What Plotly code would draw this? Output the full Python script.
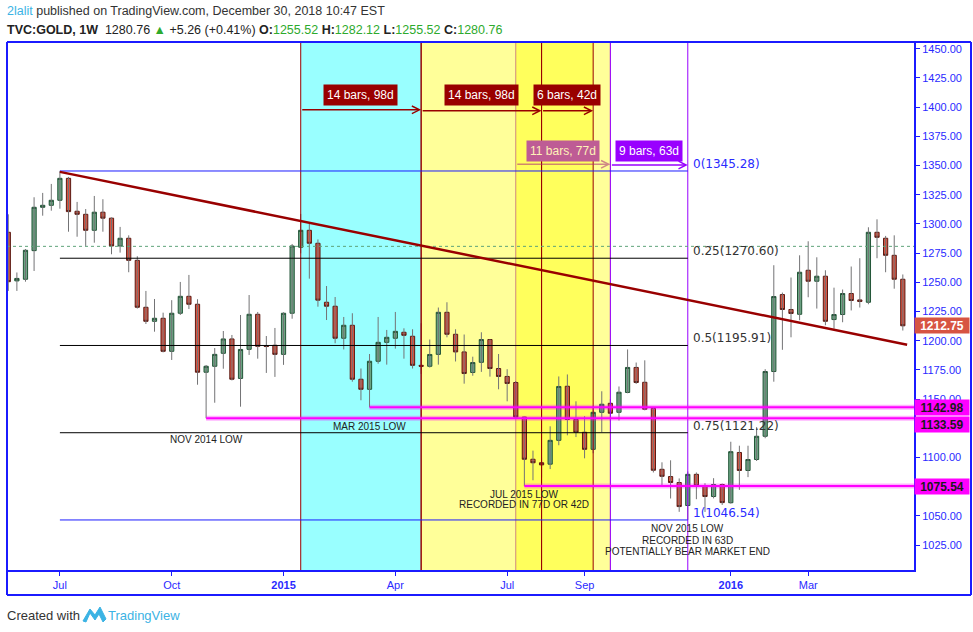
import plotly.graph_objects as go
import pandas as pd

# ---------------- data (weekly TVC:GOLD bars) ----------------
week_start = "2014-05-26"

opens = [1292.8, 1251.2, 1252.6, 1277.1, 1314.2, 1315.9, 1320.2, 1339.0, 1310.8, 1308.2,
         1294.5, 1310.0, 1304.9, 1281.1, 1287.7, 1268.8, 1228.6, 1216.6, 1219.2, 1190.9,
         1223.5, 1238.0, 1231.2, 1173.0, 1178.1, 1189.2, 1201.5, 1167.7, 1192.6, 1222.6,
         1195.6, 1196.1, 1188.3, 1223.5, 1280.0, 1294.5, 1283.4, 1232.9, 1229.5, 1202.1,
         1213.2, 1167.0, 1158.4, 1182.4, 1198.6, 1202.1, 1207.2, 1203.8, 1178.9, 1178.1,
         1188.3, 1224.3, 1205.5, 1190.4, 1172.8, 1181.5, 1201.0, 1176.2, 1169.4, 1164.2,
         1134.6, 1098.5, 1095.5, 1094.3, 1114.7, 1161.0, 1132.6, 1121.6, 1107.0, 1138.7,
         1146.4, 1138.7, 1155.7, 1177.1, 1164.4, 1142.1, 1089.9, 1083.7, 1078.6, 1058.9,
         1085.6, 1075.7, 1066.6, 1076.9, 1061.3, 1104.3, 1088.9, 1098.3, 1118.2, 1173.6,
         1239.5, 1226.7, 1222.6, 1260.3, 1250.9, 1255.2, 1218.1, 1222.4, 1240.4, 1234.9,
         1232.9, 1292.8, 1287.7, 1273.1, 1252.6]
highs = [1308.2, 1258.4, 1278.5, 1322.8, 1326.5, 1334.2, 1345.3, 1340.2, 1318.8, 1312.7,
         1323.9, 1321.1, 1305.5, 1297.4, 1290.2, 1272.3, 1242.6, 1235.7, 1224.0, 1234.7,
         1250.3, 1256.3, 1235.5, 1179.2, 1193.7, 1208.3, 1204.9, 1222.0, 1239.1, 1224.6,
         1204.0, 1210.9, 1224.3, 1282.8, 1308.5, 1299.9, 1286.7, 1246.8, 1237.4, 1220.3,
         1223.5, 1176.2, 1188.6, 1220.3, 1209.2, 1224.6, 1210.6, 1209.8, 1214.9, 1201.0,
         1228.4, 1232.9, 1209.8, 1205.3, 1186.3, 1207.2, 1201.2, 1188.6, 1175.6, 1165.5,
         1135.0, 1105.9, 1100.0, 1126.7, 1169.4, 1171.1, 1148.1, 1135.4, 1144.4, 1156.7,
         1150.0, 1160.8, 1192.5, 1181.3, 1183.2, 1142.5, 1095.9, 1097.6, 1082.1, 1088.0,
         1087.2, 1078.0, 1082.3, 1077.7, 1113.5, 1110.1, 1110.1, 1126.0, 1175.6, 1264.6,
         1241.2, 1254.1, 1273.1, 1285.1, 1271.4, 1260.3, 1245.4, 1243.8, 1263.5, 1270.6,
         1297.1, 1303.9, 1289.7, 1290.2, 1256.7]
lows = [1242.6, 1242.6, 1250.5, 1259.7, 1307.0, 1311.3, 1313.0, 1293.3, 1289.0, 1281.1,
        1283.9, 1293.3, 1274.0, 1275.4, 1258.6, 1227.5, 1214.3, 1207.7, 1190.0, 1183.5,
        1222.0, 1227.1, 1162.3, 1133.6, 1146.9, 1176.0, 1166.0, 1143.5, 1187.8, 1184.6,
        1172.4, 1169.0, 1179.3, 1218.8, 1274.8, 1253.1, 1229.1, 1217.7, 1197.8, 1192.5,
        1164.9, 1149.0, 1142.98, 1180.3, 1179.5, 1193.2, 1184.6, 1176.2, 1171.6, 1177.0,
        1179.5, 1202.9, 1182.2, 1163.2, 1170.0, 1173.3, 1169.2, 1158.4, 1148.1, 1134.0,
        1075.54, 1080.5, 1083.0, 1090.1, 1110.5, 1119.0, 1117.5, 1099.3, 1103.6, 1121.6,
        1131.0, 1131.7, 1155.0, 1163.0, 1140.4, 1087.2, 1076.2, 1064.9, 1053.5, 1046.54,
        1064.3, 1053.4, 1065.0, 1059.4, 1060.5, 1072.3, 1083.2, 1097.0, 1116.5, 1164.9,
        1192.2, 1202.9, 1217.5, 1237.2, 1227.5, 1213.2, 1210.3, 1215.8, 1225.9, 1228.4,
        1231.2, 1270.6, 1258.6, 1244.5, 1208.7]
closes = [1250.5, 1253.3, 1277.4, 1314.2, 1315.9, 1320.2, 1339.0, 1310.5, 1308.2, 1294.5,
          1310.0, 1304.9, 1281.1, 1287.7, 1268.8, 1228.6, 1216.6, 1219.2, 1190.9, 1223.5,
          1238.0, 1231.2, 1173.0, 1178.1, 1188.3, 1201.5, 1167.0, 1192.5, 1222.6, 1195.2,
          1195.0, 1188.3, 1223.5, 1281.1, 1294.5, 1283.4, 1234.7, 1229.5, 1202.1, 1213.2,
          1167.0, 1158.4, 1182.4, 1198.6, 1202.9, 1208.0, 1204.6, 1178.9, 1178.1, 1188.2,
          1224.3, 1205.5, 1190.4, 1171.9, 1181.3, 1201.0, 1176.2, 1169.4, 1163.4, 1134.6,
          1098.5, 1095.5, 1093.7, 1114.7, 1160.8, 1132.6, 1121.6, 1107.0, 1138.7, 1145.6,
          1137.9, 1155.9, 1177.1, 1164.2, 1141.3, 1089.1, 1083.9, 1078.6, 1058.0, 1085.6,
          1075.7, 1066.6, 1076.9, 1061.4, 1105.0, 1088.9, 1098.3, 1118.2, 1173.6, 1237.8,
          1226.7, 1223.3, 1258.6, 1250.9, 1255.2, 1216.6, 1222.4, 1240.4, 1234.4, 1233.6,
          1292.8, 1288.5, 1273.1, 1252.6, 1212.75]

tick_bars = [6, 19, 32, 45, 58, 67, 84, 93]
tick_text = ["Jul", "Oct", "<b>2015</b>", "Apr", "Jul", "Sep", "<b>2016</b>", "Mar"]

price_ticks = [1025, 1050, 1075, 1100, 1125, 1150, 1175, 1200, 1225, 1250, 1275, 1300,
               1325, 1350, 1375, 1400, 1425, 1450]
hidden_price_ticks = [1075, 1125]  # covered by price labels in the picture

fib_levels = [1345.28, 1270.60, 1195.91, 1121.22, 1046.54]
fib_names = ["0", "0.25", "0.5", "0.75", "1"]
fib_colors = ["#1B1BFF", "#000000", "#000000", "#000000", "#1B1BFF"]
fib_text_colors = ["#2A2AFF", "#333333", "#333333", "#333333", "#2A2AFF"]
fib_bars = [6, 79]

support_levels = [1142.98, 1133.59, 1075.54]
support_start_bars = [42, 23, 60]
support_label_shift = [0, -6, 0]

current_price = 1280.76

trend_bars = [6, 104.5]
trend_prices = [1344.5, 1196.6]

range_starts = [34, 48, 62, 59, 70]
range_ends = [48, 62, 68, 70, 79]
range_labels = ["14 bars, 98d", "14 bars, 98d", "6 bars, 42d", "11 bars, 77d", "9 bars, 63d"]
range_fill = ["rgba(0,255,255,0.40)", "rgba(255,255,0,0.40)", "rgba(255,255,0,0.40)",
              "rgba(255,255,0,0.40)", None]
range_line = ["#990000", "#990000", "#990000", "rgba(170,40,120,0.55)", "#9900FF"]
range_box = ["#990000", "#990000", "#990000", "#BE5C95", "#9900FF"]
range_text_col = ["white", "white", "white", "#FFF2B8", "white"]
range_label_price = [1410.0, 1410.0, 1410.0, 1362.8, 1362.8]
range_arrow_price = [1397.6, 1396.8, 1396.8, 1351.0, 1350.4]

note_texts = ["NOV 2014 LOW", "MAR 2015 LOW", "JUL 2015 LOW", "RECORDED IN 77D OR 42D",
              "NOV 2015 LOW", "RECORDED IN 63D", "POTENTIALLY BEAR MARKET END"]
note_bars = [23, 42, 60, 60, 79, 79, 79]
note_prices = [1115.0, 1126.4, 1068.5, 1059.9, 1039.2, 1029.3, 1019.5]

# ---------------- helpers ----------------
t0 = pd.Timestamp(week_start)


def bar_date(b):
    return t0 + pd.Timedelta(days=7 * b)


dates = [bar_date(i) for i in range(len(opens))]

PL, PR, PT, PB = 7, 914, 42, 570  # plot area in pixels


def px(xp):
    return (xp - PL) / (PR - PL)


def py(yp):
    return (PB - yp) / (PB - PT)


FONT = "Liberation Sans, Arial, sans-serif"
BLUE = "#1B1BFF"
UP_FILL, UP_LINE = "#6BA583", "#225437"
DN_FILL, DN_LINE = "#D75442", "#5B1A13"

fig = go.Figure()

# wicks
wx, wy = [], []
for d, h, l in zip(dates, highs, lows):
    wx += [d, d, None]
    wy += [l, h, None]
fig.add_trace(go.Scatter(x=wx, y=wy, mode="lines", line=dict(color="#737375", width=1),
                         hoverinfo="skip", showlegend=False))

# bodies
body_hi = [max(o, c) for o, c in zip(opens, closes)]
body_lo = [min(o, c) for o, c in zip(opens, closes)]
fig.add_trace(go.Candlestick(x=dates, open=opens, high=body_hi, low=body_lo, close=closes,
                             increasing=dict(fillcolor=UP_FILL, line=dict(color=UP_LINE, width=1)),
                             decreasing=dict(fillcolor=DN_FILL, line=dict(color=DN_LINE, width=1)),
                             whiskerwidth=0, hoverinfo="skip", showlegend=False))

shapes = []
annotations = []

# date range backgrounds and lines
for s, e, fill in zip(range_starts, range_ends, range_fill):
    if fill:
        shapes.append(dict(type="rect", xref="x", yref="paper", x0=bar_date(s), x1=bar_date(e),
                           y0=0, y1=1, fillcolor=fill, line=dict(width=0), layer="below"))
for s, e, lc in zip(range_starts, range_ends, range_line):
    for b in (s, e):
        shapes.append(dict(type="line", xref="x", yref="paper", x0=bar_date(b), x1=bar_date(b),
                           y0=0, y1=1, line=dict(color=lc, width=1)))

# fib levels
for lvl, col in zip(fib_levels, fib_colors):
    shapes.append(dict(type="line", xref="x", yref="y", x0=bar_date(fib_bars[0]),
                       x1=bar_date(fib_bars[1]), y0=lvl, y1=lvl, line=dict(color=col, width=1)))
for lvl, name, tc in zip(fib_levels, fib_names, fib_text_colors):
    annotations.append(dict(x=bar_date(fib_bars[1]), y=lvl, xref="x", yref="y",
                            text=f"{name}({lvl:.2f})", showarrow=False, xanchor="left",
                            yanchor="middle", xshift=3, yshift=7,
                            font=dict(family="DejaVu Sans, sans-serif", size=12, color=tc)))

# current price dotted line
shapes.append(dict(type="line", xref="paper", yref="y", x0=0, x1=1, y0=current_price,
                   y1=current_price, line=dict(color="#5FA37A", width=1, dash="dot")))

# trend line
shapes.append(dict(type="line", xref="x", yref="y", x0=bar_date(trend_bars[0]),
                   x1=bar_date(trend_bars[1]), y0=trend_prices[0], y1=trend_prices[1],
                   line=dict(color="#990000", width=2.5)))

# support lines (magenta with glow)
for lvl, sb in zip(support_levels, support_start_bars):
    shapes.append(dict(type="line", xref="x", yref="y", x0=bar_date(sb), x1=bar_date(105.3),
                       y0=lvl, y1=lvl, line=dict(color="rgba(255,0,255,0.30)", width=5)))
    shapes.append(dict(type="line", xref="x", yref="y", x0=bar_date(sb), x1=bar_date(105.3),
                       y0=lvl, y1=lvl, line=dict(color="#FF00FF", width=2)))
for lvl, sh in zip(support_levels, support_label_shift):
    annotations.append(dict(x=1, y=lvl, xref="paper", yref="y", text=f"<b>{lvl:.2f}</b>",
                            showarrow=False, xanchor="left", yanchor="middle", yshift=sh,
                            bgcolor="#FF00FF", width=54, height=15, borderpad=0,
                            font=dict(family=FONT, size=12, color="#1a1a1a")))
annotations.append(dict(x=1, y=closes[-1], xref="paper", yref="y", text=f"<b>{closes[-1]:.2f}</b>",
                        showarrow=False, xanchor="left", yanchor="middle",
                        bgcolor=DN_FILL, width=54, height=15, borderpad=0,
                        font=dict(family=FONT, size=12, color="white")))

# date range arrows + labels
for s, e, txt, lc, bc, tc, lp, ap in zip(range_starts, range_ends, range_labels, range_line,
                                          range_box, range_text_col, range_label_price,
                                          range_arrow_price):
    annotations.append(dict(x=bar_date(e), y=ap, xref="x", yref="y", ax=bar_date(s), ay=ap,
                            axref="x", ayref="y", text="", showarrow=True, arrowhead=5,
                            arrowsize=1, arrowwidth=1.5, arrowcolor=lc, standoff=0))
    annotations.append(dict(x=bar_date((s + e) / 2), y=lp, xref="x", yref="y", text=txt,
                            showarrow=False, bgcolor=bc, borderpad=3,
                            font=dict(family=FONT, size=12, color=tc)))

# text notes
for t, b, p in zip(note_texts, note_bars, note_prices):
    annotations.append(dict(x=bar_date(b), y=p, xref="x", yref="y", text=t, showarrow=False,
                            xanchor="center", yanchor="middle",
                            font=dict(family=FONT, size=10, color="#222222")))

# frame
shapes.append(dict(type="line", xref="paper", yref="paper", x0=0, x1=px(971), y0=1, y1=1,
                   line=dict(color=BLUE, width=2)))
shapes.append(dict(type="line", xref="paper", yref="paper", x0=px(971), x1=px(971), y0=1,
                   y1=py(595), line=dict(color=BLUE, width=2)))
shapes.append(dict(type="line", xref="paper", yref="paper", x0=0, x1=0, y0=1,
                   y1=py(595), line=dict(color=BLUE, width=2)))
shapes.append(dict(type="line", xref="paper", yref="paper", x0=0, x1=px(971), y0=py(595),
                   y1=py(595), line=dict(color=BLUE, width=2)))

# header
annotations.append(dict(xref="paper", yref="paper", x=px(5), y=py(11), xanchor="left",
                        yanchor="middle", showarrow=False,
                        text='<span style="color:#3BB3E4">2lalit</span> published on TradingView.com, December 30, 2018 10:47 EST',
                        font=dict(family=FONT, size=12.5, color="#333333")))
G = "#2DAA2D"
annotations.append(dict(xref="paper", yref="paper", x=px(5), y=py(30), xanchor="left",
                        yanchor="middle", showarrow=False,
                        text=(f'<b>TVC:GOLD, 1W</b> &nbsp;1280.76 <span style="color:{G}">▲</span> +5.26 (+0.41%) '
                              f'<b>O:</b><span style="color:{G}">1255.52</span> '
                              f'<b>H:</b><span style="color:{G}">1282.12</span> '
                              f'<b>L:</b><span style="color:{G}">1255.52</span> '
                              f'<b>C:</b><span style="color:{G}">1280.76</span>'),
                        font=dict(family=FONT, size=12.5, color="#222222")))
# footer
annotations.append(dict(xref="paper", yref="paper", x=px(5), y=py(615), xanchor="left",
                        yanchor="middle", showarrow=False, text="Created with",
                        font=dict(family=FONT, size=13, color="#333333")))
annotations.append(dict(xref="paper", yref="paper", x=px(106), y=py(615), xanchor="left",
                        yanchor="middle", showarrow=False, text="TradingView",
                        font=dict(family=FONT, size=13, color="#3BB3E4")))
logo = [(83, 621), (90, 609), (95, 615), (100, 607), (106, 619), (103, 622), (99, 614),
        (95, 620), (90, 613), (86, 622)]
path = "M " + " L ".join(f"{px(a):.5f},{py(b):.5f}" for a, b in logo) + " Z"
shapes.append(dict(type="path", xref="paper", yref="paper", path=path,
                   fillcolor="#3BB3E4", line=dict(color="#3BB3E4", width=1)))

fig.update_layout(
    width=973, height=632,
    margin=dict(l=PL, r=973 - PR, t=PT, b=632 - PB),
    paper_bgcolor="white", plot_bgcolor="white", showlegend=False,
    shapes=shapes, annotations=annotations,
    xaxis=dict(type="date", range=[bar_date(-0.15), bar_date(105.3)],
               tickvals=[bar_date(b) for b in tick_bars], ticktext=tick_text,
               showgrid=False, zeroline=False, showline=True, linecolor=BLUE, linewidth=2,
               ticks="outside", ticklen=4, tickcolor=BLUE,
               tickfont=dict(family=FONT, size=11, color="#2A2AFF"),
               rangeslider=dict(visible=False), fixedrange=True),
    yaxis=dict(side="right", range=[1003.7, 1455.7],
               tickvals=price_ticks,
               ticktext=["" if v in hidden_price_ticks else f"{v:.2f}" for v in price_ticks],
               showgrid=False, zeroline=False, showline=True, linecolor=BLUE, linewidth=2,
               ticks="outside", ticklen=4, tickcolor=BLUE,
               tickfont=dict(family=FONT, size=11, color="#2A2AFF"), fixedrange=True),
)

fig.write_html("out.html", config={"displayModeBar": False},
               post_script="document.body.style.margin='0';document.body.style.overflow='hidden';")
